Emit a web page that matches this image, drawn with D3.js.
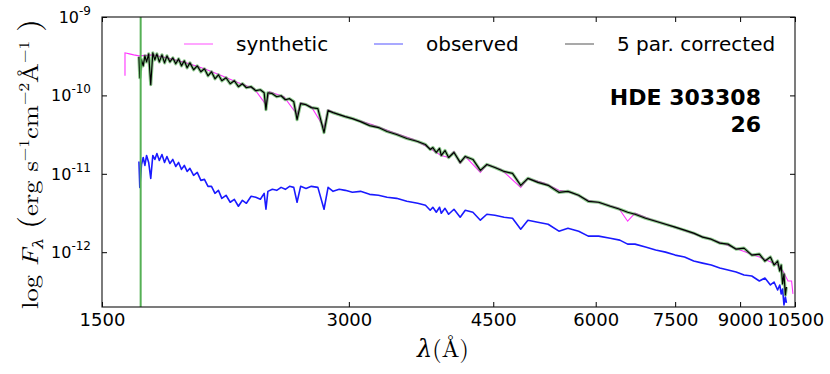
<!DOCTYPE html>
<html>
<head>
<meta charset="utf-8">
<script src="https://cdn.jsdelivr.net/npm/d3@7"></script>
<style>
  html, body { margin: 0; padding: 0; background: #fff; }
  svg { display: block; }
</style>
</head>
<body>
<svg id="chart" width="830" height="374"></svg>
<script>
// ---------------- DATA ----------------
const seriesNames = ["synthetic", "observed", "5 par. corrected"];
const starLabel = ["HDE 303308", "26"];

// wavelength grid (Å) shared by observed and corrected spectra
const wavelength = [1664,1668,1676,1684,1692,1700,1710,1720,1730,1740,
  1750,1762,1775,1788,1800,1815,1830,1845,1860,1875,
  1890,1905,1920,1940,1960,1980,2000,2020,2040,2060,
  2080,2100,2125,2150,2175,2200,2225,2250,2280,2310,
  2340,2365,2377,2390,2420,2450,2480,2510,2540,2570,
  2594,2620,2660,2700,2750,2798,2830,2870,2920,2970,
  3030,3100,3180,3260,3340,3430,3530,3640,3720,3770,
  3798,3835,3870,3889,3930,3970,4030,4101,4160,4250,
  4340,4420,4520,4640,4750,4861,4960,5100,5250,5411,
  5550,5720,5876,6050,6250,6420,6563,6700,6900,7100,
  7300,7500,7700,7900,8100,8300,8500,8700,8900,9100,
  9300,9500,9650,9800,9900,10000,10060,10100,10140,10180,
  10220,10250];

// log10 F_lambda of the 5-parameter corrected spectrum
const correctedLogFlux = [-9.508,-9.775,-9.546,-9.623,-9.496,-9.572,-9.470,-9.864,-9.457,-9.546,
  -9.470,-9.572,-9.483,-9.585,-9.496,-9.572,-9.521,-9.597,-9.534,-9.623,
  -9.559,-9.648,-9.585,-9.673,-9.623,-9.699,-9.661,-9.750,-9.699,-9.788,
  -9.737,-9.813,-9.775,-9.851,-9.813,-9.889,-9.851,-9.902,-9.889,-9.940,
  -9.928,-9.966,-10.182,-9.966,-9.978,-10.017,-10.004,-10.055,-10.042,-10.080,
  -10.309,-10.105,-10.118,-10.156,-10.169,-10.474,-10.194,-10.220,-10.245,-10.271,
  -10.296,-10.334,-10.385,-10.410,-10.461,-10.499,-10.550,-10.588,-10.626,-10.690,
  -10.665,-10.728,-10.677,-10.766,-10.703,-10.792,-10.728,-10.855,-10.779,-10.817,
  -10.957,-10.881,-10.919,-10.970,-10.995,-11.147,-11.058,-11.109,-11.147,-11.236,
  -11.224,-11.274,-11.351,-11.363,-11.414,-11.452,-11.490,-11.516,-11.567,-11.605,
  -11.643,-11.681,-11.719,-11.757,-11.808,-11.834,-11.884,-11.897,-11.961,-11.948,
  -12.037,-12.024,-12.113,-12.062,-12.164,-12.113,-12.240,-12.164,-12.405,-12.278,
  -12.545,-12.444];

// log10 F_lambda of the observed spectrum
const observedLogFlux = [-10.842,-11.173,-10.881,-10.792,-10.893,-10.766,-10.855,-11.058,-10.766,-10.817,
  -10.741,-10.830,-10.754,-10.855,-10.779,-10.868,-10.817,-10.906,-10.855,-10.944,
  -10.893,-10.970,-10.931,-11.020,-10.982,-11.084,-11.071,-11.160,-11.160,-11.249,
  -11.211,-11.313,-11.274,-11.363,-11.325,-11.414,-11.338,-11.376,-11.287,-11.300,
  -11.325,-11.249,-11.452,-11.224,-11.198,-11.211,-11.173,-11.198,-11.160,-11.173,
  -11.363,-11.160,-11.186,-11.160,-11.173,-11.452,-11.173,-11.224,-11.198,-11.211,
  -11.236,-11.224,-11.262,-11.274,-11.300,-11.313,-11.351,-11.376,-11.402,-11.465,
  -11.427,-11.490,-11.427,-11.503,-11.440,-11.516,-11.452,-11.554,-11.465,-11.490,
  -11.592,-11.516,-11.529,-11.554,-11.567,-11.706,-11.592,-11.618,-11.643,-11.732,
  -11.694,-11.732,-11.795,-11.795,-11.821,-11.846,-11.897,-11.897,-11.935,-11.973,
  -11.999,-12.037,-12.062,-12.113,-12.139,-12.164,-12.202,-12.228,-12.253,-12.291,
  -12.304,-12.367,-12.329,-12.418,-12.380,-12.482,-12.418,-12.532,-12.469,-12.672,
  -12.571,-12.647];

// synthetic (model) spectrum
const syntheticWavelength = [1600,1600,1620,1640,1664,1730,1800,1900,2000,2100,
  2200,2300,2377,2400,2500,2594,2620,2700,2798,2830,
  2900,3000,3200,3400,3600,3770,3835,3889,3970,4030,
  4101,4160,4340,4420,4600,4861,4960,5200,5411,5600,
  5876,6100,6400,6563,6700,7000,7500,8000,8500,9000,
  9500,10000,10150,10296,10400,10440];
const syntheticLogFlux = [-9.750,-9.457,-9.470,-9.483,-9.496,-9.483,-9.521,-9.585,-9.661,-9.750,
  -9.839,-9.915,-10.118,-9.953,-10.017,-10.245,-10.093,-10.144,-10.410,-10.182,
  -10.233,-10.283,-10.372,-10.474,-10.563,-10.677,-10.728,-10.766,-10.792,-10.715,
  -10.868,-10.779,-10.982,-10.881,-10.944,-11.173,-11.058,-11.122,-11.211,-11.236,
  -11.338,-11.376,-11.440,-11.605,-11.503,-11.579,-11.681,-11.783,-11.872,-11.973,
  -12.062,-12.164,-12.240,-12.367,-12.367,-12.532];

// spike in the corrected spectrum at the blue end
const spikeWavelength = [1672];

// axes
const xDomain = [1500, 10500];
const yDomain = [2e-13, 1e-9];
const xTicks = [1500, 3000, 4500, 6000, 7500, 9000, 10500];
const yTicks = [1e-9, 1e-10, 1e-11, 1e-12];
const yTickExponents = ["-9", "-10", "-11", "-12"];

// ---------------- LAYOUT ----------------
const svg = d3.select("#chart");
const M = { left: 102, right: 795, top: 17, bottom: 307 };

const x = d3.scaleLog().domain(xDomain).range([M.left, M.right]);
const y = d3.scaleLog().domain(yDomain).range([M.bottom, M.top]);

svg.append("defs").append("clipPath").attr("id", "clip")
  .append("rect").attr("x", M.left).attr("y", M.top)
  .attr("width", M.right - M.left).attr("height", M.bottom - M.top);

const toPts = (ws, ls) => ws.map((w, i) => [w, Math.pow(10, ls[i])]);
const line = d3.line().x(d => x(d[0])).y(d => y(d[1]));

const plot = svg.append("g").attr("clip-path", "url(#clip)");

plot.append("path").datum(toPts(syntheticWavelength, syntheticLogFlux))
  .attr("d", line).attr("fill", "none").attr("stroke", "#ff33ff").attr("stroke-width", 1.1);

plot.append("path").datum(toPts(wavelength, observedLogFlux))
  .attr("d", line).attr("fill", "none").attr("stroke", "#1a1aff").attr("stroke-width", 1.6)
  .attr("stroke-linejoin", "round");

const corr = toPts(wavelength, correctedLogFlux);
plot.append("path").datum(corr)
  .attr("d", line).attr("fill", "none").attr("stroke", "#2e9a2e").attr("stroke-opacity", 0.55)
  .attr("stroke-width", 3.2).attr("stroke-linejoin", "round");
plot.append("path").datum(corr)
  .attr("d", line).attr("fill", "none").attr("stroke", "#000").attr("stroke-width", 1.2)
  .attr("stroke-linejoin", "round");

plot.selectAll(".spike").data(spikeWavelength).enter().append("line")
  .attr("x1", d => x(d)).attr("x2", d => x(d))
  .attr("y1", M.top).attr("y2", M.bottom)
  .attr("stroke", "#55b055").attr("stroke-width", 2);

// ---------------- AXES ----------------
const tickFont = "DejaVu Sans, sans-serif";
const gx = svg.append("g").attr("transform", `translate(0,${M.bottom})`)
  .call(d3.axisBottom(x).tickValues(xTicks).tickFormat(d3.format("d"))
    .tickSizeInner(-5).tickSizeOuter(0).tickPadding(6));
gx.select(".domain").remove();
gx.selectAll("text").attr("font-family", tickFont).attr("font-size", 18).attr("fill", "#000");
gx.selectAll("line").attr("stroke", "#000");

const gxt = svg.append("g").attr("transform", `translate(0,${M.top})`)
  .call(d3.axisTop(x).tickValues(xTicks).tickFormat("").tickSizeInner(-5).tickSizeOuter(0));
gxt.select(".domain").remove();

const gy = svg.append("g").attr("transform", `translate(${M.left},0)`)
  .call(d3.axisLeft(y).tickValues(yTicks).tickFormat("").tickSizeInner(-5).tickSizeOuter(0));
gy.select(".domain").remove();
const gyr = svg.append("g").attr("transform", `translate(${M.right},0)`)
  .call(d3.axisRight(y).tickValues(yTicks).tickFormat("").tickSizeInner(-5).tickSizeOuter(0));
gyr.select(".domain").remove();

const yl = svg.append("g").selectAll("text").data(yTicks).enter().append("text")
  .attr("x", 91).attr("y", d => y(d) + 6)
  .attr("text-anchor", "end").attr("font-family", tickFont).attr("font-size", 16).attr("fill", "#000");
yl.append("tspan").text("10");
yl.append("tspan").attr("dy", -8).attr("font-size", 12).text((d, i) => yTickExponents[i]);

// frame
svg.append("rect").attr("x", M.left).attr("y", M.top)
  .attr("width", M.right - M.left).attr("height", M.bottom - M.top)
  .attr("fill", "none").attr("stroke", "#111").attr("stroke-width", 1.1);

// ---------------- AXIS LABELS ----------------
const serif = "Latin Modern Roman, DejaVu Serif, Liberation Serif, serif";
const xlab = svg.append("text").attr("x", 443).attr("y", 357).attr("text-anchor", "middle")
  .attr("font-family", serif).attr("font-size", 24).attr("fill", "#000");
xlab.append("tspan").attr("font-style", "italic").text("λ");
xlab.append("tspan").text("(Å)");

const ylab = svg.append("text")
  .attr("transform", "translate(38,164) rotate(-90)")
  .attr("text-anchor", "middle").attr("font-family", serif).attr("font-size", 23).attr("fill", "#000")
  .attr("textLength", 290).attr("lengthAdjust", "spacingAndGlyphs");
ylab.append("tspan").text("log ");
ylab.append("tspan").attr("font-style", "italic").text("F");
ylab.append("tspan").attr("font-style", "italic").attr("font-size", 15).attr("dy", 5).text("λ");
ylab.append("tspan").attr("dy", -5).text("  ");
ylab.append("tspan").attr("font-size", 29).attr("dy", 1).text("(");
ylab.append("tspan").attr("dy", -1).text("erg s");
ylab.append("tspan").attr("font-size", 15).attr("dy", -9).text("−1");
ylab.append("tspan").attr("dy", 9).text("cm");
ylab.append("tspan").attr("font-size", 15).attr("dy", -9).text("−2");
ylab.append("tspan").attr("dy", 9).text("Å");
ylab.append("tspan").attr("font-size", 15).attr("dy", -9).text("−1");
ylab.append("tspan").attr("dy", 9).text(" ");
ylab.append("tspan").attr("font-size", 29).attr("dy", 1).text(")");

// ---------------- LEGEND ----------------
const legendColors = ["#ff88ff", "#8c8cff", "#8c8c8c"];
const legendX = [184, 374, 565];
const lg = svg.append("g");
seriesNames.forEach((name, i) => {
  lg.append("line").attr("x1", legendX[i]).attr("x2", legendX[i] + 29)
    .attr("y1", 44).attr("y2", 44).attr("stroke", legendColors[i]).attr("stroke-width", 1.5);
  lg.append("text").attr("x", legendX[i] + 52).attr("y", 51)
    .attr("font-family", tickFont).attr("font-size", 20).attr("fill", "#000").text(name);
});

// ---------------- STAR LABEL ----------------
svg.append("g").selectAll("text").data(starLabel).enter().append("text")
  .attr("x", 761).attr("y", (d, i) => 105 + i * 27)
  .attr("text-anchor", "end").attr("font-family", tickFont).attr("font-weight", "bold")
  .attr("font-size", 22).attr("fill", "#000").text(d => d);
</script>
</body>
</html>
